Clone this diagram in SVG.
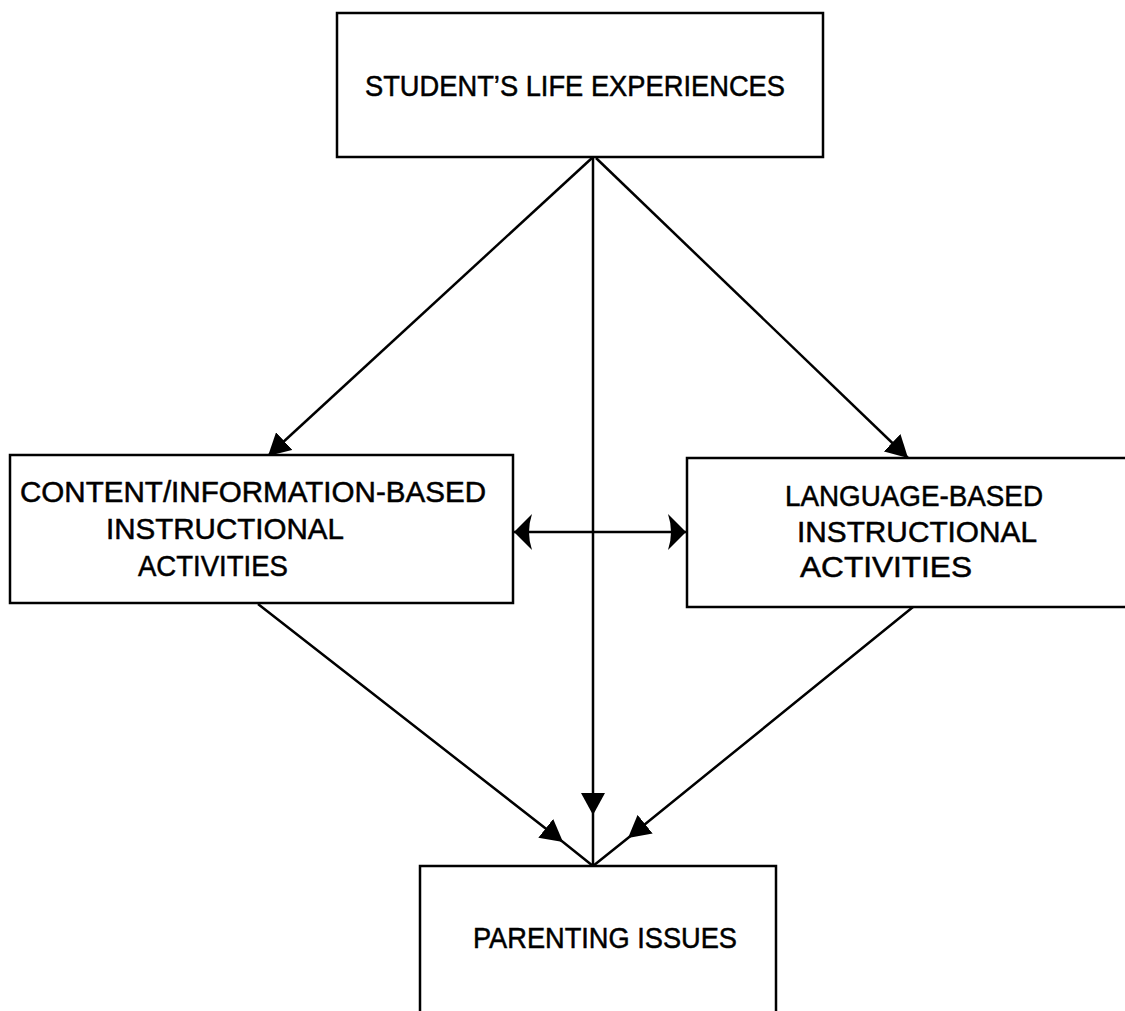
<svg xmlns="http://www.w3.org/2000/svg" width="1125" height="1011" viewBox="0 0 1125 1011">
<style>
.box{fill:#fff;stroke:#000;stroke-width:2.5}
.lbl{font-family:"Liberation Sans",Arial,sans-serif;font-size:29px;fill:#000;stroke:#000;stroke-width:0.5}
.con{fill:none;stroke:#000;stroke-width:2.5}
</style>
<defs>
<marker id="arr" markerUnits="userSpaceOnUse" viewBox="0 0 22 24" refX="22" refY="12" markerWidth="22" markerHeight="24" orient="auto">
<path d="M0,0 L22,12 L0,24 Z" fill="#000"/>
</marker>
<marker id="arrH" markerUnits="userSpaceOnUse" viewBox="0 0 18 36" refX="18" refY="18" markerWidth="18" markerHeight="36" orient="auto-start-reverse">
<path d="M0,0 L18,18 L0,36 Q6,18 0,0 Z" fill="#000"/>
</marker>
</defs>
<rect width="1125" height="1011" fill="#fff"/>
<g id="connectors">
<line class="con" x1="592" y1="158" x2="268" y2="456" marker-end="url(#arr)"/>
<line class="con" x1="596" y1="158" x2="908" y2="458" marker-end="url(#arr)"/>
<polyline class="con" points="593,158 593,815 593,866" marker-mid="url(#arr)"/>
<polyline class="con" points="258,604 563,842 593,866" marker-mid="url(#arr)"/>
<polyline class="con" points="913,607 628,838 593,866" marker-mid="url(#arr)"/>
<line class="con" x1="514" y1="532" x2="686" y2="532" marker-start="url(#arrH)" marker-end="url(#arrH)"/>
</g>
<g id="student">
<rect class="box" x="337" y="13" width="486" height="144"/>
<text class="lbl" x="365" y="96" font-size="30" textLength="420" lengthAdjust="spacingAndGlyphs">STUDENT’S LIFE EXPERIENCES</text>
</g>
<g id="content">
<rect class="box" x="10" y="455" width="503" height="148"/>
<text class="lbl" x="20" y="502" textLength="466" lengthAdjust="spacingAndGlyphs">CONTENT/INFORMATION-BASED</text>
<text class="lbl" x="106" y="539" textLength="238" lengthAdjust="spacingAndGlyphs">INSTRUCTIONAL</text>
<text class="lbl" x="138" y="576" textLength="150" lengthAdjust="spacingAndGlyphs">ACTIVITIES</text>
</g>
<g id="language">
<rect class="box" x="687" y="458" width="450" height="149"/>
<text class="lbl" x="785" y="506" textLength="258" lengthAdjust="spacingAndGlyphs">LANGUAGE-BASED</text>
<text class="lbl" x="797" y="542" textLength="240" lengthAdjust="spacingAndGlyphs">INSTRUCTIONAL</text>
<text class="lbl" x="800" y="577" textLength="172" lengthAdjust="spacingAndGlyphs">ACTIVITIES</text>
</g>
<g id="parenting">
<rect class="box" x="420" y="866" width="356" height="160"/>
<text class="lbl" x="473" y="948" textLength="264" lengthAdjust="spacingAndGlyphs">PARENTING ISSUES</text>
</g>
</svg>
